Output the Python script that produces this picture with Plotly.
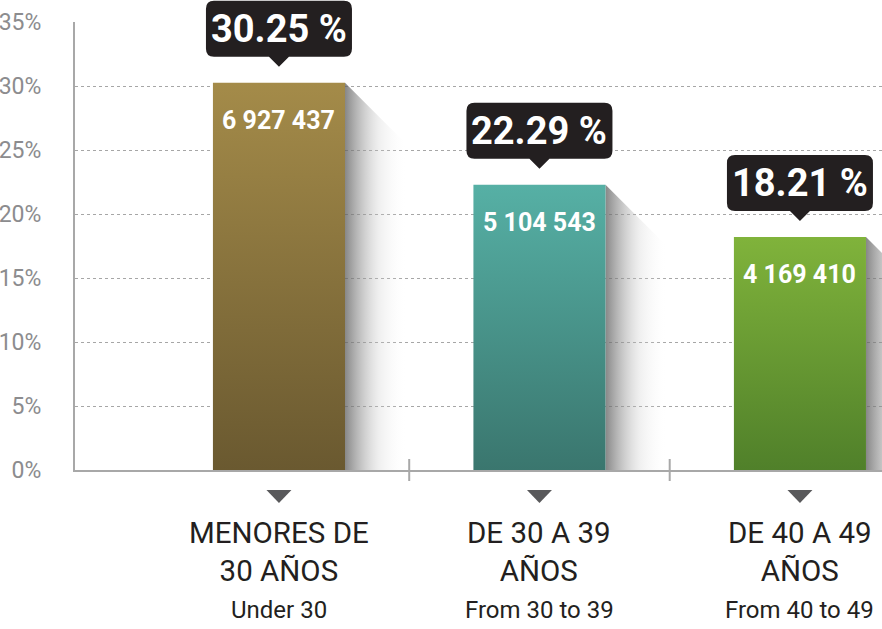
import plotly.graph_objects as go

# ---- data ----
labels_es = ["MENORES DE<br>30 AÑOS", "DE 30 A 39<br>AÑOS", "DE 40 A 49<br>AÑOS"]
labels_en = ["Under 30", "From 30 to 39", "From 40 to 49"]
shares = [30.25, 22.29, 18.21]
counts = [6927437, 5104543, 4169410]
y_ticks = [0, 5, 10, 15, 20, 25, 30, 35]

# ---- styling ----
top_colors = ["#a48b49", "#56b0a5", "#80b33b"]
bottom_colors = ["#6a5930", "#3a766e", "#50802a"]
FONT = "Roboto, sans-serif"
W, H = 882, 629
M_L, M_R, M_T, M_B = 75, 0, 22, 159
X_RANGE = [-0.783, 2.315]
Y_RANGE = [0, 35]
BAR_W = 0.507

plot_w = W - M_L - M_R
plot_h = H - M_T - M_B
px_per_x = plot_w / (X_RANGE[1] - X_RANGE[0])
px_per_y = plot_h / (Y_RANGE[1] - Y_RANGE[0])


def fmt_count(n):
    return f"{n:,}".replace(",", " ")


def to_paper_y(v):
    return (v - Y_RANGE[0]) / (Y_RANGE[1] - Y_RANGE[0])


fig = go.Figure()

# long diagonal shadows behind each bar
shadow_px = 62
for i, v in enumerate(shares):
    xr = i + BAR_W / 2
    dx = shadow_px / px_per_x
    dy = shadow_px / px_per_y
    fig.add_trace(go.Scatter(
        x=[xr, xr + dx, xr + dx, xr, xr],
        y=[v, v - dy, 0, 0, v],
        mode="none", fill="toself",
        fillgradient=dict(type="horizontal",
                          colorscale=[[0, "rgba(95,95,95,0.75)"],
                                      [0.55, "rgba(200,200,200,0.28)"],
                                      [1, "rgba(255,255,255,0)"]]),
        hoverinfo="skip", showlegend=False,
    ))

# bars with vertical gradient
for i, v in enumerate(shares):
    xl, xr = i - BAR_W / 2, i + BAR_W / 2
    fig.add_trace(go.Scatter(
        x=[xl, xr, xr, xl, xl],
        y=[0, 0, v, v, 0],
        mode="none", fill="toself",
        fillgradient=dict(type="vertical",
                          colorscale=[[0, bottom_colors[i]], [1, top_colors[i]]]),
        hoverinfo="skip", showlegend=False,
    ))


def callout_path(half_w=73, bottom=26, top=82, r=8, tip=16, tip_w=10):
    L, R, B, T = -half_w, half_w, bottom, top
    return (f"M {L + r},{B} L {-tip_w},{B} L 0,{tip} L {tip_w},{B} L {R - r},{B} "
            f"Q {R},{B} {R},{B + r} L {R},{T - r} Q {R},{T} {R - r},{T} "
            f"L {L + r},{T} Q {L},{T} {L},{T - r} L {L},{B + r} Q {L},{B} {L + r},{B} Z")


shapes = []
annotations = []
for i, v in enumerate(shares):
    # black callout above the bar (paper y so it may rise above the plot area)
    shapes.append(dict(type="path", xref="x", yref="paper",
                       xsizemode="pixel", ysizemode="pixel",
                       xanchor=i, yanchor=to_paper_y(v), path=callout_path(),
                       fillcolor="#231f20", line=dict(width=0), layer="above"))
    annotations.append(dict(x=i, y=v, xref="x", yref="y", yshift=54,
                            text=f"<b>{v:.2f} %</b>", showarrow=False,
                            font=dict(family=FONT, size=38, color="white")))
    # count inside bar
    annotations.append(dict(x=i, y=v, xref="x", yref="y", yshift=-38,
                            text=f"<b>{fmt_count(counts[i])}</b>", showarrow=False,
                            font=dict(family=FONT, size=25, color="white")))
    # down-pointing marker under the axis
    shapes.append(dict(type="path", xref="x", yref="paper",
                       xsizemode="pixel", ysizemode="pixel",
                       xanchor=i, yanchor=0,
                       path="M -12.5,-20 L 12.5,-20 L 0,-33 Z",
                       fillcolor="#59595b", line=dict(width=0)))
    # category labels
    annotations.append(dict(x=i, y=0, xref="x", yref="paper", yshift=-82,
                            text=labels_es[i], showarrow=False, yanchor="middle",
                            font=dict(family=FONT, size=29.5, color="#231f20")))
    annotations.append(dict(x=i, y=0, xref="x", yref="paper", yshift=-140,
                            text=labels_en[i], showarrow=False, yanchor="middle",
                            font=dict(family=FONT, size=24, color="#231f20")))

# category separators crossing the baseline
for i in range(len(shares) - 1):
    shapes.append(dict(type="line", xref="x", yref="paper",
                       ysizemode="pixel", yanchor=0,
                       x0=i + 0.5, x1=i + 0.5, y0=-11, y1=11,
                       line=dict(color="#a8a8a8", width=2)))

fig.update_layout(
    width=W, height=H,
    margin=dict(l=M_L, r=M_R, t=M_T, b=M_B),
    paper_bgcolor="white", plot_bgcolor="white",
    shapes=shapes, annotations=annotations,
    showlegend=False, hovermode=False,
    xaxis=dict(range=X_RANGE, showgrid=False, zeroline=False,
               showticklabels=False, ticks="", automargin=False,
               showline=True, linecolor="#a8a8a8", linewidth=2,
               fixedrange=True),
    yaxis=dict(range=Y_RANGE, tickvals=y_ticks,
               ticktext=[f"{t}%" for t in y_ticks],
               showgrid=True, gridcolor="#a6a6a6", griddash="dot", gridwidth=1,
               zeroline=False, showline=True, linecolor="#a8a8a8", linewidth=2,
               ticks="", ticklabelstandoff=27, automargin=False,
               tickfont=dict(family=FONT, size=23, color="#8c8c8e"),
               fixedrange=True),
)

fig.write_html("out.html")
